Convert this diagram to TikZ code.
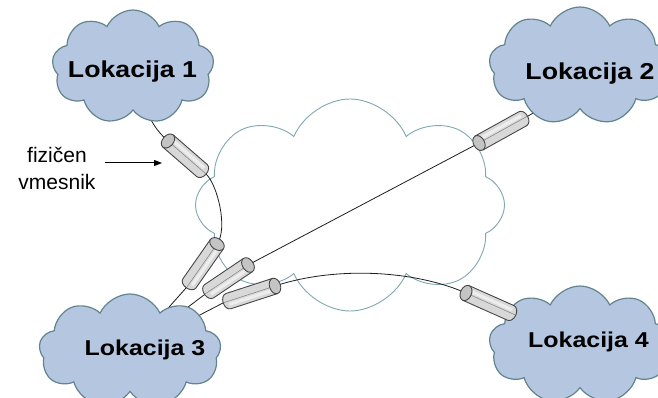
\documentclass[tikz,border=0pt]{standalone}
\usepackage{fontspec}
\setmainfont{Liberation Sans}
\newfontfamily\lokfont[FakeStretch=1.16]{Liberation Sans}
\usetikzlibrary{shapes.symbols,arrows.meta}

\definecolor{lokfill}{RGB}{181,199,224}
\definecolor{lokedge}{RGB}{98,132,142}
\definecolor{netedge}{RGB}{128,168,176}
\definecolor{cylfill}{RGB}{216,216,216}
\definecolor{capfill}{RGB}{196,196,196}
\definecolor{cyledge}{RGB}{70,70,70}
\definecolor{cablecol}{RGB}{30,30,30}

\pgfdeclarelayer{netlayer}
\pgfdeclarelayer{cablelayer}
\pgfsetlayers{netlayer,cablelayer,main}

\tikzset{
  lokcloud/.style={cloud, cloud puffs=9, cloud puff arc=130, cloud ignores aspect,
    draw=lokedge, fill=lokfill, line width=1.2pt, inner sep=0pt},
  netcloud/.style={cloud, cloud puffs=8, cloud puff arc=135, cloud ignores aspect,
    draw=netedge, fill=white, line width=0.9pt, inner sep=0pt},
  loklabel/.style={font=\lokfont\bfseries\fontsize{23}{27}\selectfont, anchor=base, inner sep=0pt},
  cable/.style={draw=cablecol, line width=0.8pt},
  pics/cyl/.style={code={
    % body of the connector sleeve, flat end at the origin, rounded far end
    \fill[cylfill] (0,-8) -- (#1,-8)
      arc[start angle=-90, end angle=90, x radius=5.5, y radius=8] -- (0,8) -- cycle;
    \fill[white, opacity=0.55] (3,-5) -- (#1,-5) -- (#1,-1.8) -- (3,-1.8) -- cycle;
    \draw[gray, line width=0.5pt] (0,0) -- (#1+5.5,0);
    \draw[cyledge, line width=0.9pt] (0,-8) -- (#1,-8)
      arc[start angle=-90, end angle=90, x radius=5.5, y radius=8] -- (0,8);
    \draw[cyledge, line width=0.9pt, fill=capfill] (0,0) ellipse[x radius=5.5, y radius=8];
  }}
}

\begin{document}
\begin{tikzpicture}[x=1pt, y=-1pt]
\useasboundingbox (0,0) rectangle (658,398);
\clip (0,0) rectangle (658,398);

% shared network cloud in the middle
\begin{pgfonlayer}{netlayer}
  \node[netcloud, minimum width=309pt, minimum height=212pt] (net) at (350,205) {};
\end{pgfonlayer}

% the four sites
\node[lokcloud, minimum width=162pt, minimum height=114pt] (l1) at (133,67) {};
\node[lokcloud, minimum width=182pt, minimum height=118pt] (l2) at (580,66) {};
\node[lokcloud, minimum width=182pt, minimum height=114pt] (l3) at (130,351) {};
\node[lokcloud, minimum width=182pt, minimum height=118pt] (l4) at (580,345) {};

\node[loklabel] (t1) at (132.5,78) {Lokacija 1};
\node[loklabel] (t2) at (590,80) {Lokacija 2};
\node[loklabel, font=\lokfont\bfseries\fontsize{21.5}{26}\selectfont] (t3) at (145,355.5) {Lokacija 3};
\node[loklabel, font=\lokfont\bfseries\fontsize{21.5}{26}\selectfont] (t4) at (588.5,347.5) {Lokacija 4};

% sleeve end points (e = flat end, o = rounded end)
\coordinate (c1e) at (168,141); \coordinate (c1o) at (206,174);
\coordinate (c2e) at (217,244); \coordinate (c2o) at (186,288);
\coordinate (c3e) at (248,265); \coordinate (c3o) at (204,295);
\coordinate (c4e) at (275,286); \coordinate (c4o) at (223,303);
\coordinate (c5e) at (479,143); \coordinate (c5o) at (528,116);
\coordinate (c6e) at (466,293); \coordinate (c6o) at (516,315);

% links
\begin{pgfonlayer}{cablelayer}
  \draw[cable] (l1.center) to[out=-70, in=139] (c1e) -- (c1o)
    .. controls (217,184) and (228.5,228) .. (c2e) -- (c2o) -- (l3.center);
  \draw[cable] (l3.center) -- (c3o) -- (c3e) -- (c5e) -- (c5o)
    to[out=29, in=-120] (l2.center);
  \draw[cable] (l3.center) -- (c4o) -- (c4e)
    .. controls (332,267) and (411,269) .. (c6e) -- (c6o) -- (l4.center);
\end{pgfonlayer}

% sleeves over the links
\pic[rotate=-41]  at (c1e) {cyl=45};
\pic[rotate=-125] at (c2e) {cyl=48};
\pic[rotate=-146] at (c3e) {cyl=47};
\pic[rotate=-162] at (c4e) {cyl=49};
\pic[rotate=29]   at (c5e) {cyl=50};
\pic[rotate=-24]  at (c6e) {cyl=49};

% annotation
\node[font=\fontsize{21}{27}\selectfont, align=center, inner sep=0pt] (lbl) at (57,168.5) {fizičen\\vmesnik};
\coordinate (arrA) at (105,163);
\coordinate (arrB) at (162,163);
\draw[line width=1pt, -{Triangle[length=8pt, width=6pt]}] (arrA) -- (arrB);
\end{tikzpicture}
\end{document}
